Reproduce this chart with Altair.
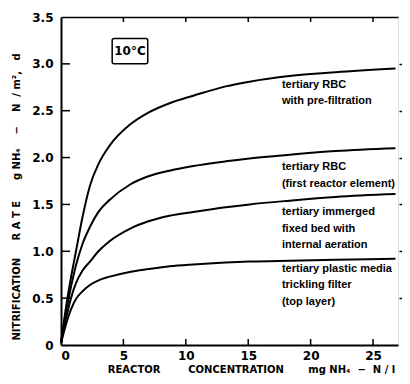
import altair as alt
import pandas as pd

# ---- data ----
conc = [0, 0.4, 0.8, 1.2, 1.7, 2.32, 3.0, 3.91, 5.51, 7.0, 8.7, 10.6, 13.2, 15.1, 18.3, 22, 26.8]
rbc_prefilt = [0.02, 0.40, 0.72, 1.00, 1.35, 1.70, 1.93, 2.13, 2.35, 2.48, 2.58, 2.66, 2.76, 2.81, 2.87, 2.91, 2.95]
rbc_first = [0.02, 0.35, 0.62, 0.85, 1.07, 1.26, 1.42, 1.55, 1.71, 1.80, 1.86, 1.91, 1.96, 1.99, 2.03, 2.07, 2.10]
immerged = [0.02, 0.28, 0.50, 0.66, 0.79, 0.89, 1.00, 1.11, 1.24, 1.32, 1.38, 1.42, 1.47, 1.50, 1.54, 1.58, 1.61]
trickling = [0.02, 0.22, 0.38, 0.49, 0.57, 0.64, 0.69, 0.73, 0.78, 0.81, 0.84, 0.86, 0.88, 0.89, 0.90, 0.91, 0.92]
series_names = ["prefilt", "first", "immerged", "trickling"]

x_ticks = [0, 5, 10, 15, 20, 25]
y_ticks = [0, 0.5, 1.0, 1.5, 2.0, 2.5, 3.0, 3.5]

label_x = [17.7]
label_lines = [
    ["tertiary RBC", "with pre-filtration"],
    ["tertiary RBC", "(first reactor element)"],
    ["tertiary immerged", "fixed bed with", "internal aeration"],
    ["tertiary plastic media", "trickling filter", "(top layer)"],
]
label_y = [2.84, 1.96, 1.48, 0.88]

box_text = ["10°C"]
box_x = [4.1, 6.95]
box_y = [3.0, 3.27]

W, H = 337, 328
FONT = "DejaVu Sans"
LFONT = "Liberation Sans"
NB = "\u00a0"

rows = []
for name, vals in zip(series_names, [rbc_prefilt, rbc_first, immerged, trickling]):
    for c, v in zip(conc, vals):
        rows.append({"series": name, "x": c, "y": v})
curves_df = pd.DataFrame(rows)

xs = alt.Scale(domain=[0, 27], nice=False, zero=False)
ys = alt.Scale(domain=[0, 3.5], nice=False)

x_title = ("REACTOR" + NB * 8 + "CONCENTRATION" + NB * 7 + "mg" + NB + "NH₄" + NB * 2 + "−"
           + NB * 2 + "N" + NB + "/" + NB + "l")
y_title = ("NITRIFICATION" + NB * 5 + "R" + NB + "A" + NB + "T" + NB + "E" + NB * 6 + "g" + NB
           + "NH₄" + NB * 4 + "−" + NB * 4 + "N" + NB * 2 + "/" + NB + "m²," + NB * 3 + "d")

base_axes = alt.Chart(pd.DataFrame({"x": [0], "y": [0]})).mark_point(opacity=0).encode(
    x=alt.X("x:Q", scale=xs, axis=alt.Axis(
        orient="bottom", values=x_ticks, ticks=False, domainColor="black", domainWidth=2,
        labelFont=FONT, labelFontSize=12, labelFontWeight="bold", labelColor="black",
        labelPadding=5, grid=False,
        title=x_title,
        titleFont=FONT, titleFontSize=10, titleFontWeight="bold", titleColor="black",
        titlePadding=3, titleX=190, titleAlign="center")),
    y=alt.Y("y:Q", scale=ys, axis=alt.Axis(
        orient="left", values=y_ticks, ticks=False, domainColor="black", domainWidth=2,
        labelFont=FONT, labelFontSize=12, labelFontWeight="bold", labelColor="black",
        labelPadding=8, grid=False,
        labelExpr="datum.value == 0 ? '0' : format(datum.value, '.1f')",
        title=y_title,
        titleFont=FONT, titleFontSize=10, titleFontWeight="bold", titleColor="black",
        titlePadding=10, titleY=323, titleAlign="left", titleAngle=270)),
)

other_axes = alt.Chart(pd.DataFrame({"x": [0], "y": [0]})).mark_point(opacity=0).encode(
    x=alt.X("x:Q", scale=xs, axis=alt.Axis(
        orient="top", values=x_ticks, ticks=False, labels=False, domainColor="black",
        domainWidth=1.5, grid=False, title=None)),
    y=alt.Y("y:Q", scale=ys, axis=alt.Axis(
        orient="right", values=y_ticks[1:-1], ticks=True, tickSize=3.5, tickWidth=1.5,
        tickColor="black", labels=False, domain=False, grid=False, title=None, offset=1)),
)

xt_df = pd.DataFrame({"x": x_ticks[1:]})
yt_df = pd.DataFrame({"y": y_ticks[1:-1]})
bottom_ticks = alt.Chart(xt_df).mark_rule(color="black", strokeWidth=1.5).encode(
    x=alt.X("x:Q", scale=xs, axis=None), y=alt.value(H), y2=alt.value(H - 6))
top_ticks = alt.Chart(xt_df).mark_rule(color="black", strokeWidth=1.5).encode(
    x=alt.X("x:Q", scale=xs, axis=None), y=alt.value(0), y2=alt.value(5))
left_ticks = alt.Chart(yt_df).mark_rule(color="black", strokeWidth=1.5).encode(
    y=alt.Y("y:Q", scale=ys, axis=None), x=alt.value(0), x2=alt.value(9))

curves = alt.Chart(curves_df).mark_line(color="black", strokeWidth=2, interpolate="monotone").encode(
    x=alt.X("x:Q", scale=xs, axis=None),
    y=alt.Y("y:Q", scale=ys, axis=None),
    detail="series:N",
)

lab_rows = []
for lines, yv in zip(label_lines, label_y):
    lab_rows.append({"x": label_x[0], "y": yv, "t": lines})
labels = alt.Chart(pd.DataFrame(lab_rows)).mark_text(
    align="left", baseline="top", font=LFONT, fontSize=11, fontWeight="bold",
    lineHeight=16.5, color="black").encode(
    x=alt.X("x:Q", scale=xs, axis=None), y=alt.Y("y:Q", scale=ys, axis=None), text="t")

box_df = pd.DataFrame({"x": [box_x[0]], "x2": [box_x[1]], "y": [box_y[0]], "y2": [box_y[1]],
                       "xm": [(box_x[0] + box_x[1]) / 2], "ym": [(box_y[0] + box_y[1]) / 2],
                       "t": box_text})
box = alt.Chart(box_df).mark_rect(fill="white", stroke="black", strokeWidth=1.5,
                                  cornerRadius=2).encode(
    x=alt.X("x:Q", scale=xs, axis=None), x2="x2:Q",
    y=alt.Y("y:Q", scale=ys, axis=None), y2="y2:Q")
box_t = alt.Chart(box_df).mark_text(font=FONT, fontSize=12, fontWeight="bold",
                                    color="black").encode(
    x=alt.X("xm:Q", scale=xs, axis=None), y=alt.Y("ym:Q", scale=ys, axis=None), text="t")

chart = alt.layer(
    base_axes, other_axes, bottom_ticks, top_ticks, left_ticks, curves, labels, box, box_t
).resolve_axis(x="independent", y="independent").properties(
    width=W, height=H,
    autosize=alt.AutoSizeParams(type="none"),
    padding={"left": 53, "top": 9, "right": 4, "bottom": 31},
).configure_view(stroke=None).configure(background="white")

chart.save("out.html", embed_options={"renderer": "svg", "actions": False})
